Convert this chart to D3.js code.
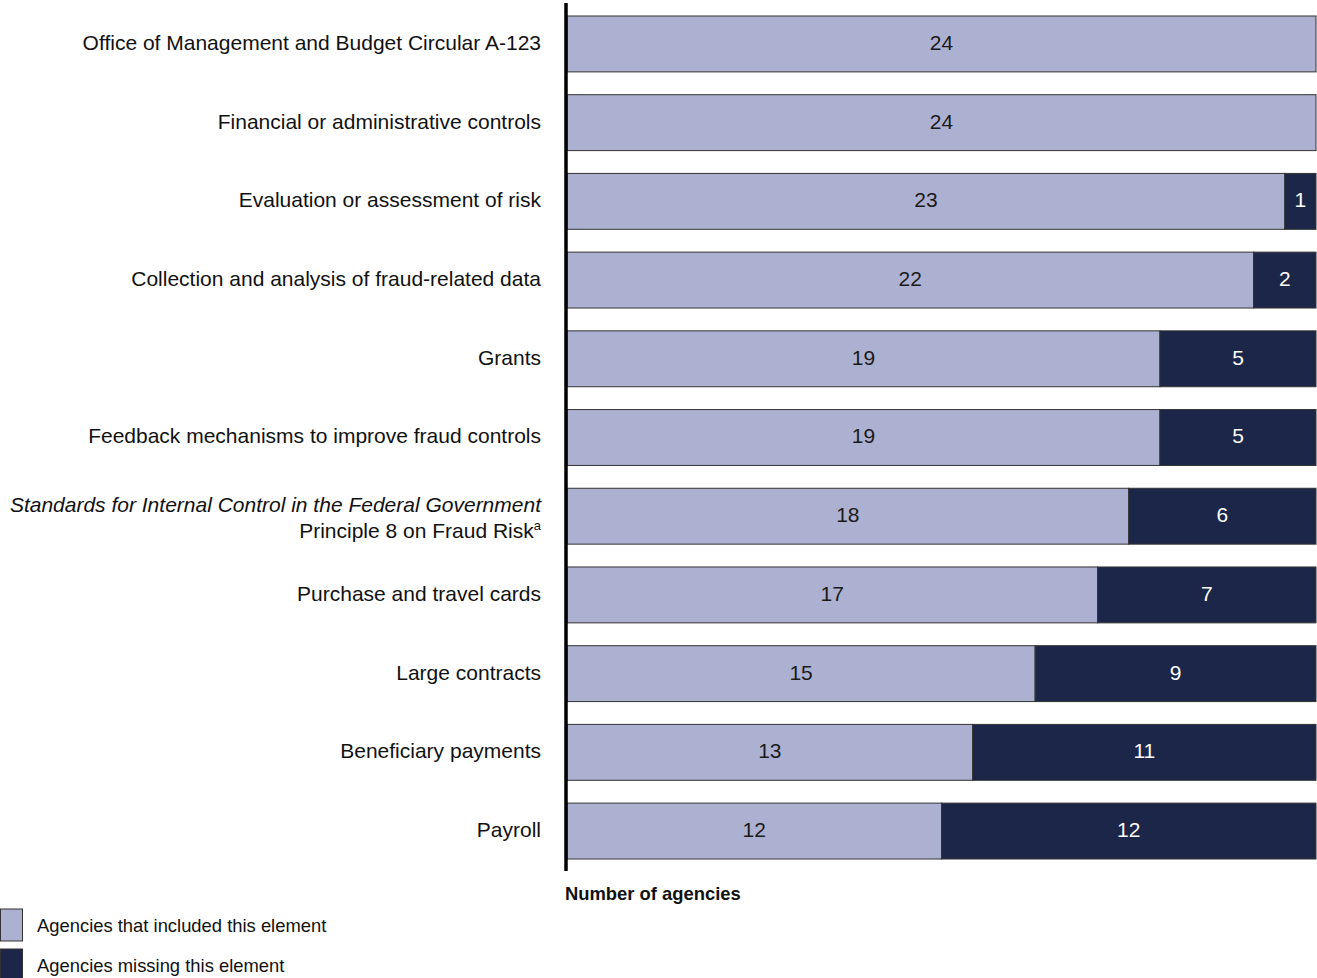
<!DOCTYPE html>
<html>
<head>
<meta charset="utf-8">
<script src="https://cdn.jsdelivr.net/npm/d3@7"></script>
<style>
  body { margin: 0; background: #fff; }
  svg { display: block; font-family: "Liberation Sans", Arial, sans-serif; }
</style>
</head>
<body>
<svg id="chart" width="1317" height="978"></svg>
<script>
// data
var categories = [
  "Office of Management and Budget Circular A-123",
  "Financial or administrative controls",
  "Evaluation or assessment of risk",
  "Collection and analysis of fraud-related data",
  "Grants",
  "Feedback mechanisms to improve fraud controls",
  "Standards",
  "Purchase and travel cards",
  "Large contracts",
  "Beneficiary payments",
  "Payroll"
];
var included = [24, 24, 23, 22, 19, 19, 18, 17, 15, 13, 12];
var missing  = [0, 0, 1, 2, 5, 5, 6, 7, 9, 11, 12];
var seriesNames = ["Agencies that included this element", "Agencies missing this element"];
var colors = ["#adb1d1", "#1b2649"];
var total = 24;

var svg = d3.select("#chart");

var x = d3.scaleLinear().domain([0, total]).range([567, 1316]);
var y = d3.scaleBand().domain(categories).range([16, 859]).paddingInner(0.29).paddingOuter(0);

var rows = categories.map(function(c, i) {
  return { cat: c, inc: included[i], mis: missing[i] };
});

// included segments
svg.selectAll("rect.inc")
  .data(rows)
  .enter().append("rect")
    .attr("class", "inc")
    .attr("x", x(0))
    .attr("y", function(d) { return y(d.cat); })
    .attr("width", function(d) { return x(d.inc) - x(0); })
    .attr("height", y.bandwidth())
    .attr("fill", colors[0])
    .attr("stroke", "#333")
    .attr("stroke-width", 1);

// missing segments
svg.selectAll("rect.mis")
  .data(rows.filter(function(d) { return d.mis > 0; }))
  .enter().append("rect")
    .attr("class", "mis")
    .attr("x", function(d) { return x(d.inc); })
    .attr("y", function(d) { return y(d.cat); })
    .attr("width", function(d) { return x(d.inc + d.mis) - x(d.inc); })
    .attr("height", y.bandwidth())
    .attr("fill", colors[1])
    .attr("stroke", "#333")
    .attr("stroke-width", 1);

// value labels
svg.selectAll("text.vinc")
  .data(rows)
  .enter().append("text")
    .attr("x", function(d) { return (x(0) + x(d.inc)) / 2; })
    .attr("y", function(d) { return y(d.cat) + y.bandwidth() / 2; })
    .attr("dy", "0.28em")
    .attr("text-anchor", "middle")
    .attr("font-size", 21)
    .attr("fill", "#1a1a1a")
    .text(function(d) { return d.inc; });

svg.selectAll("text.vmis")
  .data(rows.filter(function(d) { return d.mis > 0; }))
  .enter().append("text")
    .attr("x", function(d) { return (x(d.inc) + x(d.inc + d.mis)) / 2; })
    .attr("y", function(d) { return y(d.cat) + y.bandwidth() / 2; })
    .attr("dy", "0.28em")
    .attr("text-anchor", "middle")
    .attr("font-size", 21)
    .attr("fill", "#fff")
    .text(function(d) { return d.mis; });

// category labels
var labels = svg.selectAll("text.cat")
  .data(rows)
  .enter().append("text")
    .attr("class", "cat")
    .attr("x", 541)
    .attr("y", function(d) { return y(d.cat) + y.bandwidth() / 2; })
    .attr("dy", "0.28em")
    .attr("text-anchor", "end")
    .attr("font-size", 21)
    .attr("fill", "#111");

labels.filter(function(d) { return d.cat !== "Standards"; })
  .text(function(d) { return d.cat; });

// two-line label with italics and superscript
var std = labels.filter(function(d) { return d.cat === "Standards"; });
std.append("tspan")
  .attr("x", 541)
  .attr("dy", "-0.2em")
  .attr("font-style", "italic")
  .text("Standards for Internal Control in the Federal Government");
std.append("tspan")
  .attr("x", 541)
  .attr("dy", "1.24em")
  .text("Principle 8 on Fraud Risk");
std.append("tspan")
  .attr("font-size", 13)
  .attr("dy", "-0.6em")
  .text("a");

// vertical axis line
svg.append("line")
  .attr("x1", x(0) - 1).attr("x2", x(0) - 1)
  .attr("y1", 3).attr("y2", 871)
  .attr("stroke", "#000")
  .attr("stroke-width", 3.5);

// x axis title
svg.append("text")
  .attr("x", 565)
  .attr("y", 900)
  .attr("font-size", 18.4)
  .attr("font-weight", "bold")
  .attr("fill", "#111")
  .text("Number of agencies");

// legend
var legend = svg.selectAll("g.legend")
  .data(seriesNames)
  .enter().append("g")
    .attr("class", "legend")
    .attr("transform", function(d, i) { return "translate(0," + (909 + i * 40) + ")"; });

legend.append("rect")
  .attr("x", 0.5)
  .attr("y", 0)
  .attr("width", 22)
  .attr("height", 32)
  .attr("fill", function(d, i) { return colors[i]; })
  .attr("stroke", "#333")
  .attr("stroke-width", 1);

legend.append("text")
  .attr("x", 37)
  .attr("y", 17)
  .attr("dy", "0.3em")
  .attr("font-size", 18.4)
  .attr("fill", "#111")
  .text(function(d) { return d; });
</script>
</body>
</html>
